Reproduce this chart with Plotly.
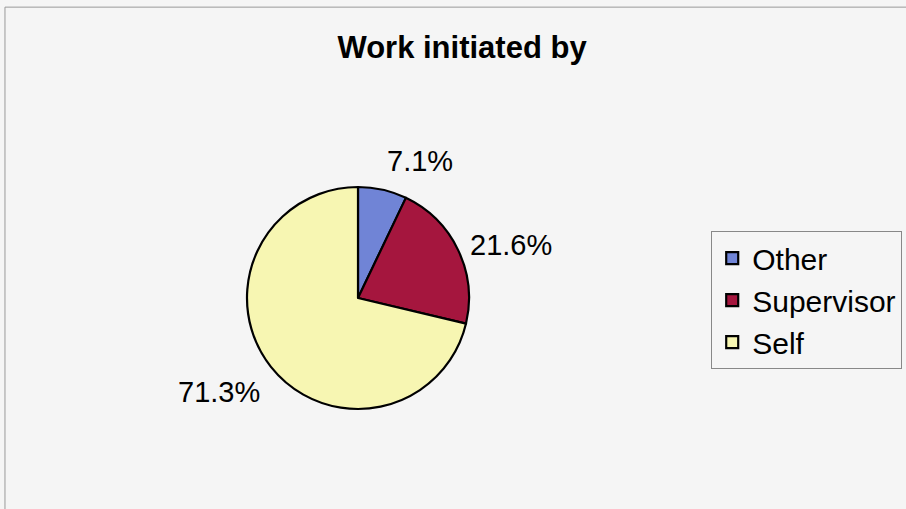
import math
import plotly.graph_objects as go

labels = ["Other", "Supervisor", "Self"]
values = [7.1, 21.6, 71.3]
colors = ["#7084d6", "#a5163e", "#f7f6b2"]
title_text = "Work initiated by"

FONT = "Liberation Sans, Arial"
W, H = 906, 509
CX, CY, R = 358, 298, 111  # pie centre and radius in pixels (layout)
LABEL_R = 1.1

dom_x = [(CX - R) / W, (CX + R) / W]
dom_y = [(H - CY - R) / H, (H - CY + R) / H]

fig = go.Figure(go.Pie(
    labels=labels,
    values=values,
    sort=False,
    direction="clockwise",
    rotation=0,
    marker=dict(colors=colors, line=dict(color="black", width=2.2)),
    textinfo="none",
    domain=dict(x=dom_x, y=dom_y),
    hoverinfo="skip",
))

# outside percentage labels, Excel-style, placed from each slice's mid-angle
total = sum(values)
annotations = []
cum = 0.0
for v in values:
    mid = (cum + v / 2) / total * 2 * math.pi
    cum += v
    s, c = math.sin(mid), math.cos(mid)
    px = CX + s * R * LABEL_R
    py = CY - c * R * LABEL_R
    xa = "left" if s > 0 else "right"
    ya = "bottom" if c > 0.5 else ("top" if c < -0.5 else "middle")
    annotations.append(dict(
        x=px / W, y=1 - py / H, xref="paper", yref="paper",
        text=f"{v / total * 100:.1f}%", showarrow=False,
        xanchor=xa, yanchor=ya,
        font=dict(family=FONT, size=29, color="black"),
    ))

fig.update_layout(
    width=W, height=H,
    margin=dict(l=0, r=0, t=0, b=0),
    paper_bgcolor="#f5f5f5",
    plot_bgcolor="#f5f5f5",
    title=dict(text=title_text, x=0.51, xanchor="center", y=0.907, yanchor="middle",
               font=dict(family=FONT, size=31, color="black", weight="bold")),
    legend=dict(x=0.785, y=0.546, xanchor="left", yanchor="top",
                bordercolor="#888888", borderwidth=1, bgcolor="#f5f5f5",
                font=dict(family=FONT, size=30, color="black"),
                tracegroupgap=0, itemwidth=30, entrywidth=215),
    annotations=annotations,
    shapes=[dict(type="rect", xref="paper", yref="paper", x0=0.0055, x1=1.02, y0=-0.02, y1=0.986,
                 line=dict(color="#999999", width=1))],
    showlegend=True,
)

fig.write_html("out.html", config={"displayModeBar": False},
               post_script="document.body.style.margin='0';")
